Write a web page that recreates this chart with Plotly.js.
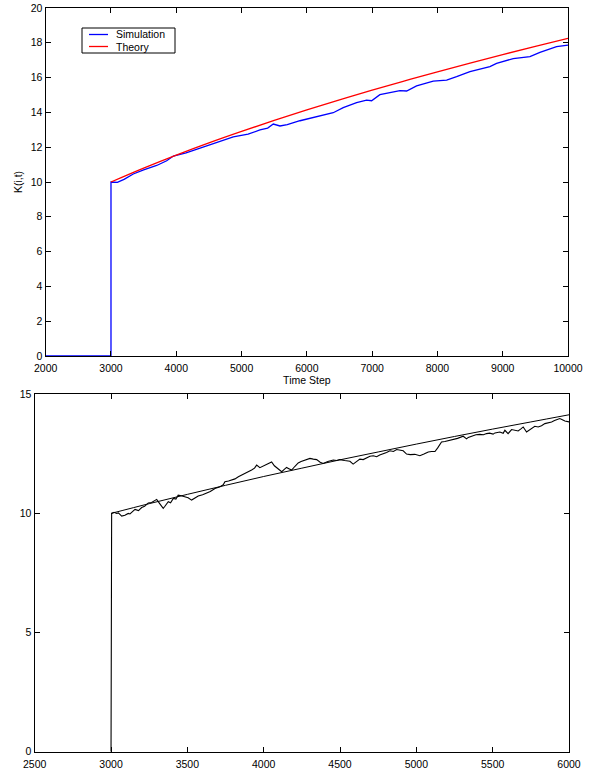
<!DOCTYPE html>
<html>
<head>
<meta charset="utf-8">
<script src="https://cdn.plot.ly/plotly-3.0.1.min.js"></script>
<style>html,body{margin:0;padding:0;background:#fff;}#chart{width:597px;height:771px;}</style>
</head>
<body>
<div id="chart"></div>
<script>
// ---- Top panel data ----
const simTopT = [2000, 3000, 3000, 3097, 3200, 3341, 3500, 3700, 3853, 3955, 4150, 4363, 4600, 4873, 5100, 5282, 5400, 5486, 5588, 5700, 5894, 6200, 6404, 6557, 6762, 6915, 6992, 7119, 7426, 7528, 7681, 7936, 8141, 8294, 8498, 8804, 8906, 9161, 9417, 9570, 9825, 10000];
const simTopK = [0, 0, 10.0, 9.98, 10.15, 10.46, 10.7, 10.95, 11.22, 11.49, 11.68, 11.94, 12.25, 12.6, 12.75, 12.99, 13.1, 13.33, 13.22, 13.3, 13.52, 13.79, 13.98, 14.27, 14.56, 14.71, 14.67, 15.02, 15.25, 15.23, 15.52, 15.8, 15.86, 16.05, 16.34, 16.63, 16.82, 17.09, 17.2, 17.45, 17.78, 17.87];
const theoryTopT = [3000, 3500, 4000, 4500, 5000, 5500, 6000, 6500, 7000, 7500, 8000, 8500, 9000, 9500, 10000];
const theoryTopK = [10.00, 10.80, 11.55, 12.25, 12.91, 13.54, 14.14, 14.72, 15.28, 15.81, 16.33, 16.83, 17.32, 17.80, 18.26];

// ---- Bottom panel data ----
const simBotT = [3000, 3004, 3020, 3037, 3048, 3070, 3091, 3113, 3124, 3157, 3180, 3201, 3220, 3244, 3266, 3299, 3320, 3342, 3353, 3375, 3390, 3408, 3425, 3440, 3460, 3484, 3505, 3528, 3550, 3571, 3600, 3626, 3650, 3681, 3702, 3714, 3735, 3746, 3770, 3790, 3812, 3834, 3855, 3877, 3900, 3921, 3940, 3954, 3975, 4008, 4030, 4052, 4070, 4085, 4100, 4118, 4135, 4150, 4165, 4183, 4205, 4226, 4245, 4259, 4280, 4303, 4325, 4347, 4370, 4390, 4420, 4456, 4478, 4499, 4530, 4565, 4586, 4608, 4630, 4652, 4675, 4696, 4718, 4740, 4760, 4783, 4805, 4827, 4850, 4871, 4890, 4914, 4936, 4960, 4990, 5023, 5050, 5078, 5100, 5122, 5140, 5154, 5165, 5187, 5210, 5241, 5270, 5307, 5329, 5340, 5362, 5390, 5416, 5440, 5460, 5480, 5503, 5515, 5547, 5569, 5580, 5601, 5624, 5645, 5667, 5685, 5700, 5722, 5744, 5760, 5776, 5798, 5820, 5842, 5865, 5886, 5905, 5918, 5940, 5960, 5973, 6001];
const simBotK = [0, 10.0, 10.05, 10.0, 10.02, 9.89, 9.92, 10.0, 9.98, 10.17, 10.12, 10.25, 10.3, 10.44, 10.46, 10.59, 10.4, 10.21, 10.3, 10.49, 10.45, 10.63, 10.6, 10.77, 10.74, 10.7, 10.66, 10.56, 10.65, 10.73, 10.78, 10.84, 10.92, 11.05, 11.08, 11.12, 11.2, 11.33, 11.36, 11.4, 11.45, 11.54, 11.6, 11.68, 11.74, 11.82, 11.9, 12.03, 11.92, 12.03, 12.08, 12.16, 12.0, 11.93, 11.85, 11.75, 11.85, 11.93, 11.88, 11.82, 11.98, 12.12, 12.18, 12.21, 12.26, 12.31, 12.28, 12.26, 12.15, 12.1, 12.18, 12.24, 12.22, 12.26, 12.22, 12.19, 12.07, 12.17, 12.28, 12.26, 12.33, 12.4, 12.42, 12.38, 12.45, 12.49, 12.56, 12.63, 12.6, 12.68, 12.66, 12.63, 12.49, 12.47, 12.48, 12.42, 12.49, 12.58, 12.6, 12.6, 12.75, 12.91, 13.0, 13.02, 13.05, 13.1, 13.15, 13.24, 13.13, 13.19, 13.24, 13.3, 13.32, 13.3, 13.35, 13.37, 13.33, 13.38, 13.42, 13.36, 13.49, 13.35, 13.52, 13.5, 13.46, 13.55, 13.63, 13.42, 13.52, 13.6, 13.66, 13.63, 13.68, 13.77, 13.8, 13.84, 13.9, 13.94, 13.98, 13.92, 13.88, 13.84];
const theoryBotT = [3000, 3250, 3500, 3750, 4000, 4250, 4500, 4750, 5000, 5250, 5500, 5750, 6000];
const theoryBotK = [10.00, 10.41, 10.80, 11.18, 11.55, 11.90, 12.25, 12.58, 12.91, 13.23, 13.54, 13.84, 14.14];

const seriesNames = ['Simulation', 'Theory'];
const seriesColors = ['#0000ff', '#ff0000'];

const FONT = 'Liberation Sans, Arial, Helvetica, sans-serif';

const traces = [
  {x: simTopT, y: simTopK, type: 'scatter', mode: 'lines', name: seriesNames[0],
   line: {color: seriesColors[0], width: 1.3}, xaxis: 'x', yaxis: 'y'},
  {x: theoryTopT, y: theoryTopK, type: 'scatter', mode: 'lines', name: seriesNames[1],
   line: {color: seriesColors[1], width: 1.3, shape: 'spline'}, xaxis: 'x', yaxis: 'y'},
  {x: simBotT, y: simBotK, type: 'scatter', mode: 'lines',
   line: {color: '#000000', width: 1.1}, xaxis: 'x2', yaxis: 'y2'},
  {x: theoryBotT, y: theoryBotK, type: 'scatter', mode: 'lines',
   line: {color: '#000000', width: 1, shape: 'spline'}, xaxis: 'x2', yaxis: 'y2'}
];

const axisCommon = {
  showgrid: false, zeroline: false, showline: true, linecolor: '#000', linewidth: 1.2,
  mirror: 'ticks', ticks: 'inside', ticklen: 5, tickcolor: '#000', tickwidth: 1,
  tickfont: {family: FONT, size: 10.5, color: '#000'}, automargin: false, tickformat: 'd'
};

// custom legend box (paper coordinates)
const W = 597, H = 771;
const px = v => v / W, py = v => 1 - v / H;
const legendShapes = [
  {type: 'rect', xref: 'paper', yref: 'paper', x0: px(82), x1: px(175), y0: py(28), y1: py(53),
   line: {color: '#000', width: 1}, fillcolor: '#fff', layer: 'above'},
  {type: 'line', xref: 'paper', yref: 'paper', x0: px(89), x1: px(108), y0: py(34.5), y1: py(34.5),
   line: {color: seriesColors[0], width: 1.3}, layer: 'above'},
  {type: 'line', xref: 'paper', yref: 'paper', x0: px(89), x1: px(108), y0: py(46.5), y1: py(46.5),
   line: {color: seriesColors[1], width: 1.3}, layer: 'above'}
];
const legendTexts = seriesNames.map((n, i) => ({
  text: n, xref: 'paper', yref: 'paper', x: px(114), y: py(34.5 + 12 * i),
  xanchor: 'left', yanchor: 'middle', showarrow: false,
  font: {family: FONT, size: 10.5, color: '#000'}
}));

const layout = {
  width: W, height: H,
  margin: {l: 0, r: 0, t: 0, b: 0},
  paper_bgcolor: '#fff', plot_bgcolor: '#fff',
  font: {family: FONT, color: '#000'},
  showlegend: false,
  xaxis: Object.assign({}, axisCommon, {
    domain: [45.7/W, 568/W], range: [2000, 10000], dtick: 1000, tick0: 2000,
    anchor: 'y', ticklabelstandoff: 2,
    title: {text: 'Time Step', font: {family: FONT, size: 10.5}, standoff: 0}
  }),
  yaxis: Object.assign({}, axisCommon, {
    domain: [1 - 356/H, 1 - 8/H], range: [0, 20], dtick: 2, tick0: 0,
    anchor: 'x',
    title: {text: 'K(i,t)', font: {family: FONT, size: 10.5}, standoff: 6}
  }),
  xaxis2: Object.assign({}, axisCommon, {
    domain: [34.7/W, 569/W], range: [2500, 6000], dtick: 500, tick0: 2500,
    anchor: 'y2', ticklabelstandoff: 2
  }),
  yaxis2: Object.assign({}, axisCommon, {
    domain: [1 - 751.7/H, 1 - 394.3/H], range: [0, 15], dtick: 5, tick0: 0,
    anchor: 'x2'
  }),
  shapes: legendShapes,
  annotations: legendTexts
};

Plotly.newPlot('chart', traces, layout, {staticPlot: true, displayModeBar: false});
</script>
</body>
</html>
